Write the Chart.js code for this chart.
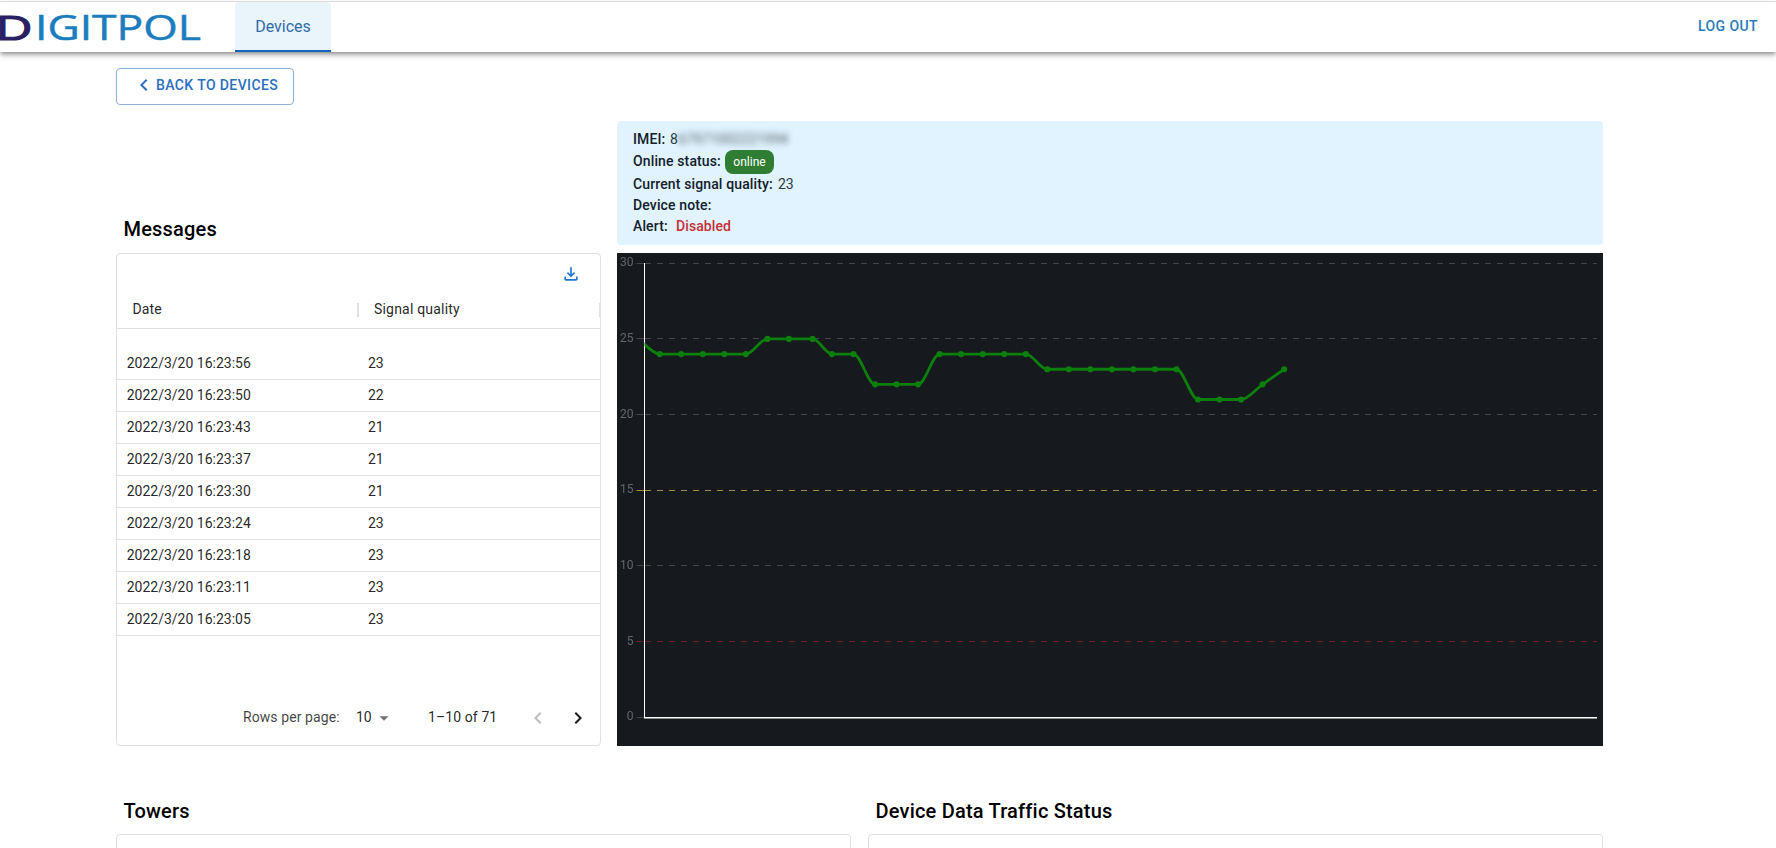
<!DOCTYPE html>
<html>
<head>
<meta charset="utf-8">
<title>Device</title>
<script src="https://cdn.jsdelivr.net/npm/chart.js@4"></script>
<style>
html,body{margin:0;padding:0;width:1776px;height:848px;overflow:hidden;background:#fff;font-family:Roboto,sans-serif;color:rgba(0,0,0,.87);font-size:14px}
.a{position:absolute;box-sizing:border-box}
.t{position:absolute;white-space:nowrap;transform:translateY(-50%);line-height:1.2}
.b{font-weight:500;color:#13202b;letter-spacing:.13px}
.card{border:1px solid #e0e0e0;border-radius:4px;background:#fff}
.h{font-size:20px;font-weight:500;color:#000;letter-spacing:.2px}
.line{position:absolute;height:1px;background:#e0e0e0}
svg.i{position:absolute;display:block}
</style>
</head>
<body>
<!-- top bar -->
<div class="a" style="left:0;top:1px;width:1776px;height:51px;background:#fff;border-top:1px solid #ddd;box-shadow:0 2px 4px -1px rgba(0,0,0,.35),0 4px 5px 0 rgba(0,0,0,.2)"></div>
<svg class="i" style="left:0;top:0" width="210" height="52">
  <text x="-4" y="40" font-family="'Liberation Sans'" font-size="35" textLength="36" lengthAdjust="spacingAndGlyphs" fill="#2b1f63" stroke="#2b1f63" stroke-width="1">D</text>
  <text x="35" y="40" font-family="'Open Sans'" font-weight="400" font-size="34" textLength="166" lengthAdjust="spacingAndGlyphs" fill="#1b7dbd" stroke="#1b7dbd" stroke-width=".5">IGITPOL</text>
</svg>
<div class="a" style="left:235px;top:2px;width:96px;height:50px;background:#e9f5fb;border-bottom:2px solid #1565c0;border-radius:4px 4px 0 0"></div>
<div class="t" style="left:235px;width:96px;text-align:center;top:27px;font-size:16px;color:#2f6aa8">Devices</div>
<div class="t" style="left:1698px;top:26px;font-weight:500;font-size:14px;letter-spacing:.4px;color:#2a7ab8">LOG OUT</div>

<!-- back button -->
<div class="a" style="left:116px;top:68px;width:178px;height:37px;border:1px solid #8fb1d6;border-radius:4px"></div>
<svg class="i" style="left:132px;top:73px" width="24" height="24" viewBox="0 0 24 24"><path fill="#2a6fc0" d="M15.41 7.41 14 6l-6 6 6 6 1.41-1.41L10.83 12z"/></svg>
<div class="t" style="left:156px;top:85px;font-weight:500;font-size:14px;letter-spacing:.4px;color:#2a6fc0">BACK TO DEVICES</div>

<!-- messages -->
<div class="t h" style="left:123.5px;top:229px">Messages</div>
<div class="a card" style="left:116px;top:253px;width:485px;height:493px"></div>
<svg class="i" style="left:561px;top:264px" width="20" height="20" viewBox="0 0 24 24"><path fill="#1f78cf" d="M18 15v3H6v-3H4v3c0 1.1.9 2 2 2h12c1.1 0 2-.9 2-2v-3h-2zm-1-4-1.41-1.41L13 12.17V4h-2v8.17L8.41 9.59 7 11l5 5 5-5z"/></svg>
<div class="t" style="left:132.5px;top:309px;letter-spacing:.15px">Date</div>
<div class="t" style="left:374px;top:309px;letter-spacing:.2px">Signal quality</div>
<div class="a" style="left:357px;top:303px;width:2px;height:14px;background:#e0e0e0"></div>
<div class="a" style="left:599px;top:303px;width:1px;height:14px;background:#e0e0e0"></div>
<div class="line" style="left:117px;top:328px;width:483px"></div>
<div id="rows"></div>
<div class="t" style="left:243px;top:717px;color:rgba(0,0,0,.75);letter-spacing:.08px">Rows per page:</div>
<div class="t" style="left:356px;top:717px">10</div>
<svg class="i" style="left:373px;top:707px" width="22" height="22" viewBox="0 0 24 24"><path fill="#757575" d="M7 10l5 5 5-5z"/></svg>
<div class="t" style="left:428px;top:717px;letter-spacing:.1px">1–10 of 71</div>
<svg class="i" style="left:526px;top:706px" width="24" height="24" viewBox="0 0 24 24"><path fill="#bdbdbd" d="M15.41 7.41 14 6l-6 6 6 6 1.41-1.41L10.83 12z"/></svg>
<svg class="i" style="left:566px;top:706px" width="24" height="24" viewBox="0 0 24 24"><path fill="#1a1a1a" d="M10 6 8.59 7.41 13.17 12l-4.58 4.58L10 18l6-6z"/></svg>

<!-- info -->
<div class="a" style="left:617px;top:121px;width:986px;height:124px;background:#e0f3fe;border-radius:4px"></div>
<div class="t b" style="left:633px;top:139px">IMEI:</div>
<div class="t" style="left:670px;top:139px;color:#2a3a44">8</div>
<div class="t" style="left:678px;top:139px;color:#565f66;filter:blur(3px)">67971002221994</div>
<div class="t b" style="left:633px;top:161px">Online status:</div>
<div class="a" style="left:725px;top:150px;width:49px;height:24px;background:#2e7d32;border-radius:8px;color:#fff;font-size:12px;text-align:center;line-height:24px">online</div>
<div class="t b" style="left:633px;top:184px">Current signal quality:</div>
<div class="t" style="left:778px;top:184px;color:#2a3a44">23</div>
<div class="t b" style="left:633px;top:205px">Device note:</div>
<div class="t b" style="left:633px;top:226px">Alert:</div>
<div class="t" style="left:676px;top:226px;font-weight:500;color:#c62f35;letter-spacing:.1px">Disabled</div>

<!-- chart panel -->
<div class="a" style="left:617px;top:253px;width:986px;height:493px;background:#16191d">
  <canvas id="signal" width="986" height="493" style="display:block;width:986px;height:493px"></canvas>
</div>

<!-- lower sections -->
<div class="t h" style="left:123.5px;top:811px">Towers</div>
<div class="t h" style="left:875.5px;top:811px">Device Data Traffic Status</div>
<div class="a card" style="left:116px;top:834px;width:735px;height:60px"></div>
<div class="a card" style="left:868px;top:834px;width:735px;height:60px"></div>

<script>
// Table shown on the left
const rowDates = ["2022/3/20 16:23:56","2022/3/20 16:23:50","2022/3/20 16:23:43","2022/3/20 16:23:37","2022/3/20 16:23:30","2022/3/20 16:23:24","2022/3/20 16:23:18","2022/3/20 16:23:11","2022/3/20 16:23:05"];
const rowQuality = [23,22,21,21,21,23,23,23,23];

// Signal quality series
const sampleIndex = [0,1,2,3,4,5,6,7,8.1,9,10,11,12,13,14,15,16,17,18,19,20,21,22,23,24,25,26,27,28,29,30];
const signalValues = [25,24,24,24,24,24,25,25,25,24,24,22,22,22,24,24,24,24,24,23,23,23,23,23,23,23,21,21,21,22,23];
const yTickValues = [0,5,10,15,20,25,30];

rowDates.forEach((d, i) => {
  const y = 363.3 + 32 * i;
  const r = document.getElementById('rows');
  r.insertAdjacentHTML('beforeend',
    `<div class="t" style="left:126.7px;top:${y}px">${d}</div>` +
    `<div class="t" style="left:368px;top:${y}px">${rowQuality[i]}</div>` +
    `<div class="line" style="left:117px;top:${y + 16}px;width:483px"></div>`);
});

const gridColor = ctx => {
  const v = ctx.tick ? ctx.tick.value : null;
  if (v === 15) return '#a88c3e';
  if (v === 5) return '#6e2029';
  return '#444649';
};

new Chart(document.getElementById('signal'), {
  type: 'line',
  data: {
    datasets: [{
      data: sampleIndex.map((x, i) => ({x, y: signalValues[i]})),
      borderColor: '#0c7f0c',
      backgroundColor: '#0c7f0c',
      borderWidth: 2.8,
      pointRadius: 1.7,
      pointHoverRadius: 1.7,
      cubicInterpolationMode: 'monotone',
      fill: false
    }]
  },
  options: {
    responsive: false,
    animation: false,
    devicePixelRatio: 1,
    layout: {padding: {left: 0, right: 6.2, top: 10.3, bottom: 28.7}},
    plugins: {legend: {display: false}, tooltip: {enabled: false}},
    scales: {
      x: {
        type: 'linear',
        min: 0.294,
        max: 44.52,
        afterFit: s => { s.height = 0; },
        ticks: {display: false},
        grid: {display: false, drawTicks: false},
        border: {display: true, color: '#ffffff', width: 1.5}
      },
      y: {
        type: 'linear',
        min: 0,
        max: 30,
        afterFit: s => { s.width = 27.5; },
        afterBuildTicks: s => { s.ticks = yTickValues.map(value => ({value})); },
        ticks: {color: '#64676b', padding: 3, font: {family: 'Roboto', size: 12}},
        grid: {color: gridColor, tickColor: gridColor, lineWidth: 1, tickLength: 8, drawTicks: true},
        border: {display: true, color: '#ffffff', width: 1, dash: [6, 6]}
      }
    }
  }
});
</script>
</body>
</html>
